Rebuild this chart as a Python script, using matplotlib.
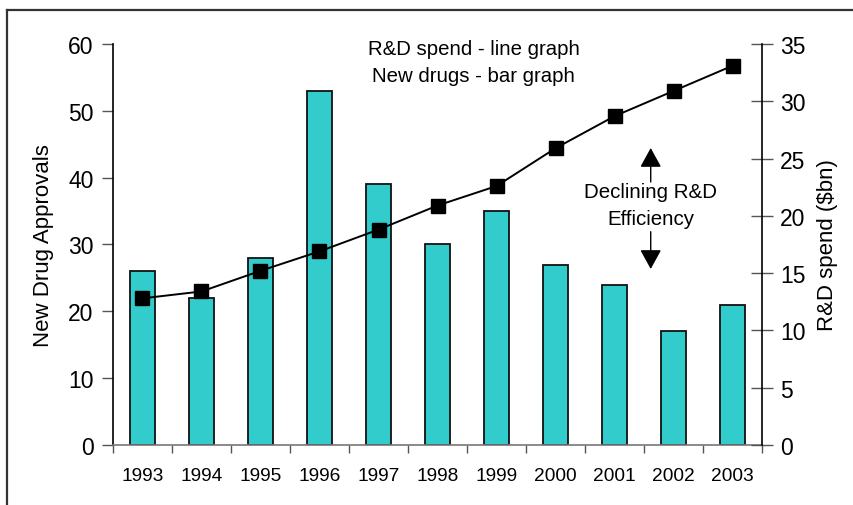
import matplotlib
matplotlib.use("Agg")
import matplotlib.pyplot as plt
from matplotlib.lines import Line2D
import numpy as np

plt.rcParams['font.family'] = ['Liberation Sans', 'DejaVu Sans']

# new drug approvals per year (bars) and R&D spend in $bn (line)
years = ['1993', '1994', '1995', '1996', '1997', '1998', '1999', '2000', '2001', '2002', '2003']
approvals = [26, 22, 28, 53, 39, 30, 35, 27, 24, 17, 21]
rd_spend = [12.8, 13.4, 15.2, 16.9, 18.8, 20.9, 22.6, 25.9, 28.7, 30.9, 33.1]

x = np.arange(len(years))

fig = plt.figure(figsize=(8.54, 5.06), dpi=100)
ax = fig.add_axes([0.1323, 0.1186, 0.76, 0.7925])

ax.bar(x, approvals, width=0.41, color='#33CCCC', edgecolor='#111111', linewidth=1.3, zorder=2)
ax.set_xlim(-0.5, len(years) - 0.5)
ax.set_ylim(0, 60)
ax.set_yticks(range(0, 61, 10))
ax.set_xticks(x)
ax.set_xticklabels(years, fontsize=13.8)
ax.set_xticks(np.arange(-0.5, len(years), 1), minor=True)
ax.tick_params(axis='x', which='major', length=0, pad=16)
ax.tick_params(axis='x', which='minor', length=6, width=1, color='#555555', direction='out')
ax.tick_params(axis='y', length=8, width=1, color='#555555', labelsize=16.5, pad=6)
ax.set_ylabel('New Drug Approvals', fontsize=16, labelpad=10)
for s in ['top', 'right']:
    ax.spines[s].set_visible(False)
ax.spines['bottom'].set_color('#777777')
ax.spines['bottom'].set_linewidth(1.2)
ax.spines['left'].set_linewidth(1.2)

ax2 = ax.twinx()
ax2.plot(x, rd_spend, color='black', linewidth=1.4, marker='s', markersize=9.5, zorder=3)
ax2.set_ylim(0, 35)
ax2.set_yticks(range(0, 36, 5))
ax2.tick_params(axis='y', direction='inout', length=16, width=1, color='#555555', labelsize=16.5, pad=5)
ax2.set_ylabel('R&D spend ($bn)', fontsize=16, labelpad=8)
for s in ['top', 'left', 'bottom']:
    ax2.spines[s].set_visible(False)
ax2.spines['right'].set_linewidth(1.2)

# legend-style notes and the efficiency arrows
ax.text(0.556, 0.9875, 'R&D spend - line graph', transform=ax.transAxes,
        ha='center', va='center', fontsize=14.7)
ax.text(0.556, 0.921, 'New drugs - bar graph', transform=ax.transAxes,
        ha='center', va='center', fontsize=14.7)
ax.text(0.8285, 0.6317, 'Declining R&D', transform=ax.transAxes,
        ha='center', va='center', fontsize=14.8)
ax.text(0.8285, 0.5636, 'Efficiency', transform=ax.transAxes,
        ha='center', va='center', fontsize=14.8)
arrow = dict(arrowstyle='-|>,head_length=0.6,head_width=0.33', color='black', lw=1.0,
             mutation_scale=20, shrinkA=0, shrinkB=0)
ax.annotate('', xy=(0.8285, 0.7406), xytext=(0.8285, 0.6559),
            xycoords='axes fraction', arrowprops=arrow)
ax.annotate('', xy=(0.8285, 0.4389), xytext=(0.8285, 0.5319),
            xycoords='axes fraction', arrowprops=arrow)

# partial frame around the figure
fig.add_artist(Line2D([0.0082, 1.0], [0.978, 0.978], color='#333333', lw=1.6))
fig.add_artist(Line2D([0.0082, 0.0082], [0.0, 0.978], color='#333333', lw=1.6))

fig.savefig('out.png', dpi=100)
